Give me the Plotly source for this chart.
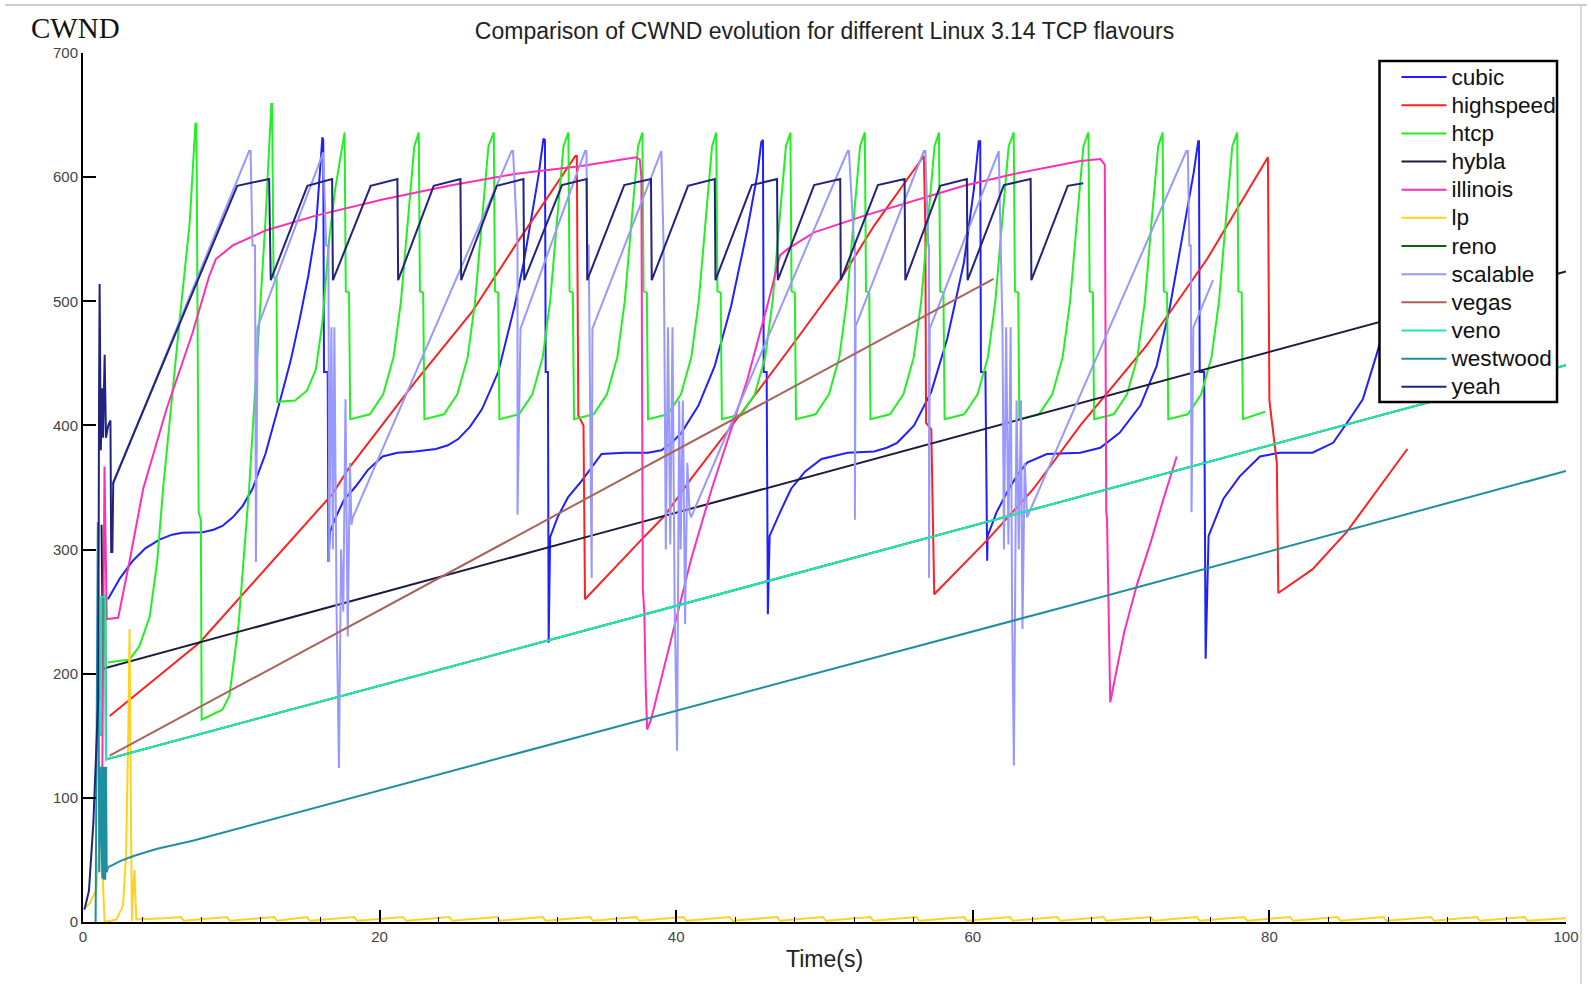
import plotly.graph_objects as go

# ---------------- data (time in s, CWND in packets) ----------------
cubic = [(1.68,260),(2.5,277),(3.36,291),(4.2,301),(5.16,308),(6.0,312),(6.7,313.6),(8.07,314),(8.8,316),(9.4,319),
         (10.1,326),(10.76,335),(11.43,349),(12.3,377),(13.2,416),(14.0,452),(14.57,483),(15.2,521),(15.7,558),(15.95,598),
         (16.14,632),(16.2,630),(16.25,443),(16.5,443),(16.55,290),(16.65,314),(17.0,325),(17.6,340),(18.4,351),(19.2,364),
         (20.2,375),(21.2,378),(22.4,379),(23.8,381),(24.6,384),(25.3,389),(26.1,399),(26.9,413),(28.0,443),(29.1,496),
         (29.7,530),(30.26,569),(30.7,600),(31.05,631),(31.15,630),(31.2,443),(31.35,443),(31.4,225),(31.5,310),(32.0,326),
         (32.7,342),(33.6,355),(34.97,377),(36.5,378),(38.1,378),(39.0,380),(39.7,386),(40.35,394),(41.5,416),(42.6,448),
         (43.7,496),(44.8,558),(45.5,604),(45.73,628),(45.85,630),(45.9,443),(46.1,443),(46.18,248),(46.3,311),(47.0,330),
         (47.75,349),(48.7,363),(49.8,373),(51.56,378),(53.35,379),(54.2,382),(54.9,386),(56.04,400),(57.2,427),(58.28,470),
         (59.4,531),(60.07,590),(60.4,629),(60.5,629),(60.55,443),(60.85,443),(60.97,291),(61.0,311),(61.6,330),(62.3,346),
         (63.0,360),(63.66,370),(65.0,377),(67.25,378),(68.6,382),(69.9,394),(71.3,416),(72.4,448),(73.3,496),(74.2,558),
         (74.9,604),(75.2,629),(75.25,629),(75.3,443),(75.6,443),(75.7,212),(75.9,311),(76.9,341),(78.0,359),(79.36,375),
         (80.7,378),(82.9,378),(84.3,386),(85.4,405),(86.3,421),(87.2,456),(88.0,490),(89.0,540)]

highspeed = [(1.8,166),(7.85,225),(16.8,344.5),(17.9,365),(22.4,435),(26.2,491),(29.1,544),(33.2,617),(33.3,617),
             (33.4,408),(33.75,400),(33.85,260),(37.66,308),(39.2,327),(41.0,357),(44.4,410),(47.97,467),(51.1,518),
             (53.35,561),(56.7,617),(56.8,560),(56.85,402),(57.2,397),(57.4,264),(61.0,308),(64.1,349),(67.25,400),
             (71.7,464),(75.8,534),(79.9,616),(80.0,420),(80.3,388),(80.5,370),(80.6,265),(82.9,284),(85.2,314),
             (87.0,343),(89.3,381)]

htcp = [(1.68,209),(3.14,211.5),(3.8,222),(4.5,246),(5.0,290),(5.4,349),(6.5,483),(7.2,564),(7.58,643),(7.65,643),
        (7.8,330),(7.95,324),(8.0,163),(9.4,171),(9.87,182),(10.5,241),(11.2,349),(11.9,483),(12.3,564),(12.7,659),
        (12.75,659),(12.85,520),(13.05,518),(13.1,419),(14.3,420),(15.1,428),(15.7,445),(16.14,483),(16.6,550),(17.0,590),
        (17.64,636),(17.72,508),(17.94,507),(18.02,405),(19.34,409),(20.24,425),(20.94,455),(21.44,500),(21.94,570),(22.34,625),
        (22.64,636),(22.72,508),(22.94,507),(23.02,405),(24.34,409),(25.24,425),(25.94,455),(26.44,500),(26.94,570),(27.34,625),
        (27.70,636),(27.78,508),(28.00,507),(28.08,405),(29.40,409),(30.30,425),(31.00,455),(31.50,500),(32.00,570),(32.40,625),
        (32.73,636),(32.81,508),(33.03,507),(33.11,405),(34.43,409),(35.33,425),(36.03,455),(36.53,500),(37.03,570),(37.43,625),
        (37.72,636),(37.80,508),(38.02,507),(38.10,405),(39.42,409),(40.32,425),(41.02,455),(41.52,500),(42.02,570),(42.42,625),
        (42.70,636),(42.78,508),(43.00,507),(43.08,405),(44.40,409),(45.30,425),(46.00,455),(46.50,500),(47.00,570),(47.40,625),
        (47.70,636),(47.78,508),(48.00,507),(48.08,405),(49.40,409),(50.30,425),(51.00,455),(51.50,500),(52.00,570),(52.40,625),
        (52.72,636),(52.80,508),(53.02,507),(53.10,405),(54.42,409),(55.32,425),(56.02,455),(56.52,500),(57.02,570),(57.42,625),
        (57.72,636),(57.80,508),(58.02,507),(58.10,405),(59.42,409),(60.32,425),(61.02,455),(61.52,500),(62.02,570),(62.42,625),
        (62.76,636),(62.84,508),(63.06,507),(63.14,405),(64.46,409),(65.36,425),(66.06,455),(66.56,500),(67.06,570),(67.46,625),
        (67.80,636),(67.88,508),(68.10,507),(68.18,405),(69.50,409),(70.40,425),(71.10,455),(71.60,500),(72.10,570),(72.50,625),
        (72.80,636),(72.88,508),(73.10,507),(73.18,405),(74.50,409),(75.40,425),(76.10,455),(76.60,500),(77.10,570),(77.50,625),
        (77.83,636),(77.91,508),(78.13,507),(78.21,405),(79.70,411)]

hybla = [(1.25,320),(1.35,204),(33.6,309),(67.25,418),(87.3,483),(100,524)]

illinois = [(1.3,120),(1.45,367),(1.6,244),(2.37,245),(3.16,292),(4.06,349),(5.63,413),(7.4,475),(8.5,520),(8.96,534),
            (10.1,545),(12.3,557),(15.7,569),(20.2,582),(24.66,593),(29.1,602.5),(33.6,609),(37.3,616),(37.55,614),
            (37.65,600),(37.75,268),(37.85,250),(37.95,187),(38.04,155),(38.3,163),(39.2,206),(40.35,260),(41.0,292),
            (42.4,349),(44.8,437),(46.2,499),(47.0,537),(47.5,542),(49.3,555.5),(52.7,569),(56.0,581),(59.4,593),
            (62.76,602.5),(67.25,613),(68.6,614.6),(68.9,610),(69.0,330),(69.05,325),(69.27,177),(70.2,233),(71.05,271),
            (72.0,306),(72.85,340.5),(73.75,375)]

lp = [(0,10),(0.45,15),(0.9,26),(1.1,60),(1.23,91),(1.35,30),(1.46,0),(2.24,2),(2.7,13),(2.9,53),(3.05,150),(3.14,236),
      (3.25,60),(3.3,1),(3.4,30),(3.47,42),(3.55,15),(3.6,2),(5.5,3),(6.6,4),(6.8,1),(9.7,4),(9.9,1),(12.9,4),(13.1,1),
      (15.1,4),(15.3,1),(18.3,4),(18.5,1),(21.6,4),(21.8,1),(24.7,4),(24.9,1),(27.9,4),(28.1,1),(31.0,4),(31.2,1),
      (34.2,4),(34.4,1),(37.3,4),(37.5,1),(40.5,4),(40.7,1),(43.6,4),(43.8,1),(46.8,4),(47.0,1),(49.9,4),(50.1,1),
      (53.1,4),(53.3,1),(56.2,4),(56.4,1),(59.4,4),(59.6,1),(62.5,4),(62.7,1),(65.7,4),(65.9,1),(68.8,4),(69.0,1),
      (72.0,4),(72.2,1),(75.1,4),(75.3,1),(78.3,4),(78.5,1),(81.4,4),(81.6,1),(84.6,4),(84.8,1),(87.7,4),(87.9,1),
      (90.9,4),(91.1,1),(94.0,4),(94.2,1),(97.2,4),(97.4,1),(100,3)]

reno = [(1.2,150),(1.25,262),(1.5,262),(1.55,131),(33.6,234),(67.25,343),(100,448.5)]

scalable = [(2.0,352),(11.2,621),(11.3,621),(11.43,545),(11.6,545),(11.66,290),(11.77,479),(16.2,620),(16.4,545),
            (16.55,545),(16.6,290),(16.75,479),(16.85,300),(16.95,479),(17.1,250),(17.26,124),(17.4,300),(17.55,250),
            (17.7,421),(17.85,230),(18.0,370),(18.1,320),(18.2,326),(28.9,621),(29.0,621),(29.25,545),(29.3,545),
            (29.3,328),(29.5,478),(33.85,621),(33.95,621),(34.0,545),(34.1,545),(34.3,277),(34.35,478),(39.0,621),
            (39.15,545),(39.2,479),(39.3,300),(39.45,479),(39.6,304),(39.75,479),(39.9,250),(40.06,138),(40.2,420),
            (40.3,300),(40.45,420),(40.6,240),(40.75,370),(40.9,330),(41.0,326),(51.56,621),(51.65,621),(52.0,545),
            (52.05,545),(52.05,324),(52.1,480),(56.7,621),(56.8,621),(57.0,545),(57.05,545),(57.05,277),(57.1,478),
            (61.75,621),(61.9,545),(62.0,479),(62.1,300),(62.25,479),(62.4,304),(62.55,479),(62.65,250),(62.77,126),
            (62.95,420),(63.1,300),(63.25,420),(63.35,236),(63.5,370),(63.6,330),(63.66,326),(74.4,621),(74.5,621),
            (74.6,545),(74.7,545),(74.75,330),(74.87,479),(76.2,517)]

vegas = [(1.8,134),(61.4,518)]

veno = [(1.2,150),(1.25,262),(1.5,262),(1.55,131),(33.6,234),(67.25,343),(100,448.5)]

westwood = [(0.85,0),(1.0,322),(1.1,40),(1.2,125),(1.3,35),(1.35,125),(1.4,34),(1.45,125),(1.5,34),(1.55,125),
            (1.6,40),(1.68,44),(2.5,49),(3.36,53),(5.0,59),(7.4,65.5),(33.6,149.7),(67.25,257.2),(100,363.3)]

yeah = [(0.1,10),(0.4,25),(0.7,80),(0.9,140),(1.03,180),(1.08,420),(1.12,514),(1.2,380),(1.3,430),(1.35,390),
        (1.46,457),(1.55,390),(1.7,400),(1.85,404),(1.9,298),(1.98,298),(2.04,354),(10.4,593),(12.55,598.5),(12.66,517),
        (15.13,593),(16.8,598.5),(16.85,517),(19.4,593),(21.2,598.5),(21.25,517),(23.65,593),(25.45,598.5),(25.5,517),
        (27.9,593),(29.7,598.5),(29.75,517),(32.3,593.6),(33.96,598.5),(34.0,517),(36.5,593.6),(38.3,598.5),(38.35,517),
        (40.8,593),(42.6,598.5),(42.65,517),(45.1,593.6),(46.8,598.5),(46.85,517),(49.3,593.6),(51.06,598.5),(51.1,517),
        (53.6,593.6),(55.4,598.5),(55.45,517),(57.8,593),(59.6,598.5),(59.65,517),(62.1,593.6),(63.9,598.5),(63.95,517),
        (66.4,593),(67.45,595)]

series_names = ["cubic", "highspeed", "htcp", "hybla", "illinois", "lp", "reno",
                "scalable", "vegas", "veno", "westwood", "yeah"]
series_data = [cubic, highspeed, htcp, hybla, illinois, lp, reno, scalable, vegas, veno, westwood, yeah]
series_colors = ["#1f1fff", "#ff2020", "#22f022", "#1c1c3c", "#ff2fb4", "#ffd21f", "#0a640a",
                 "#9898ff", "#a8645c", "#1fe8b4", "#1f8f9f", "#22227f"]

title_text = "Comparison of CWND evolution for different Linux 3.14 TCP flavours"
x_label = "Time(s)"
y_label = "CWND"

# ---------------- figure ----------------
fig = go.Figure()
for name, pts, col in zip(series_names, series_data, series_colors):
    fig.add_trace(go.Scatter(
        x=[p[0] for p in pts], y=[p[1] for p in pts],
        name='<span style="font-size:22.6px">' + name + '</span>',
        hovertemplate=name + ": %{y}<extra></extra>",
        mode="lines",
        line=dict(color=col, width=2),
    ))

W, H = 1591, 984
L, R, T, B = 83, 21, 53, 62
PW, PH = W - L - R, H - T - B

def px2paper_x(px):
    return (px - L) / PW

def px2paper_y(py):
    return 1 - (py - T) / PH

axis_common = dict(showline=True, linecolor="black", linewidth=2, ticks="inside",
                   tickcolor="black", tickwidth=1.5, showgrid=False, zeroline=False,
                   tickfont=dict(size=15, color="#444", family="Liberation Sans, Arial"))

fig.update_layout(
    width=W, height=H,
    margin=dict(l=L, r=R, t=T, b=B),
    plot_bgcolor="white", paper_bgcolor="white",
    font=dict(family="Liberation Sans, Arial", color="#222"),
    title=dict(text=title_text, x=0.5, xref="paper", xanchor="center",
               y=1 - 30.5 / H, yanchor="middle", font=dict(size=23, color="#222")),
    xaxis=dict(range=[0, 100], tick0=0, dtick=20, ticklen=12,
               minor=dict(dtick=4, ticks="inside", ticklen=5, tickcolor="black", tickwidth=1.2, showgrid=False),
               **axis_common),
    yaxis=dict(range=[0, 700], tick0=0, dtick=100, ticklen=13, **axis_common),
    legend=dict(x=px2paper_x(1400), xanchor="left", y=px2paper_y(58), yanchor="top",
                bgcolor="rgba(0,0,0,0)", borderwidth=0, itemwidth=45,
                font=dict(size=19.35, color="#111", family="Liberation Sans, Arial"),
                traceorder="normal"),
    showlegend=True,
)

# legend frame (white box with black border)
fig.add_shape(type="rect", xref="paper", yref="paper",
              x0=px2paper_x(1383), x1=px2paper_x(1561), y0=px2paper_y(402), y1=px2paper_y(61),
              fillcolor="white", line=dict(color="black", width=2.5), layer="above")
# light grey page frame lines
fig.add_shape(type="line", xref="paper", yref="paper",
              x0=px2paper_x(5), x1=px2paper_x(1591), y0=px2paper_y(5), y1=px2paper_y(5),
              line=dict(color="#bbbbbb", width=1.5), layer="below")
fig.add_shape(type="line", xref="paper", yref="paper",
              x0=px2paper_x(1585), x1=px2paper_x(1585), y0=px2paper_y(984), y1=px2paper_y(5),
              line=dict(color="#cccccc", width=1.5), layer="below")

fig.add_annotation(text=y_label, xref="paper", yref="paper", x=px2paper_x(29), y=px2paper_y(28),
                   xanchor="left", yanchor="middle", showarrow=False,
                   font=dict(family="Liberation Serif, Times New Roman", size=29, color="#111"))
fig.add_annotation(text=x_label, xref="paper", yref="paper", x=0.5, y=px2paper_y(959),
                   xanchor="center", yanchor="middle", showarrow=False,
                   font=dict(size=23, color="#222"))

fig.write_html("out.html")
